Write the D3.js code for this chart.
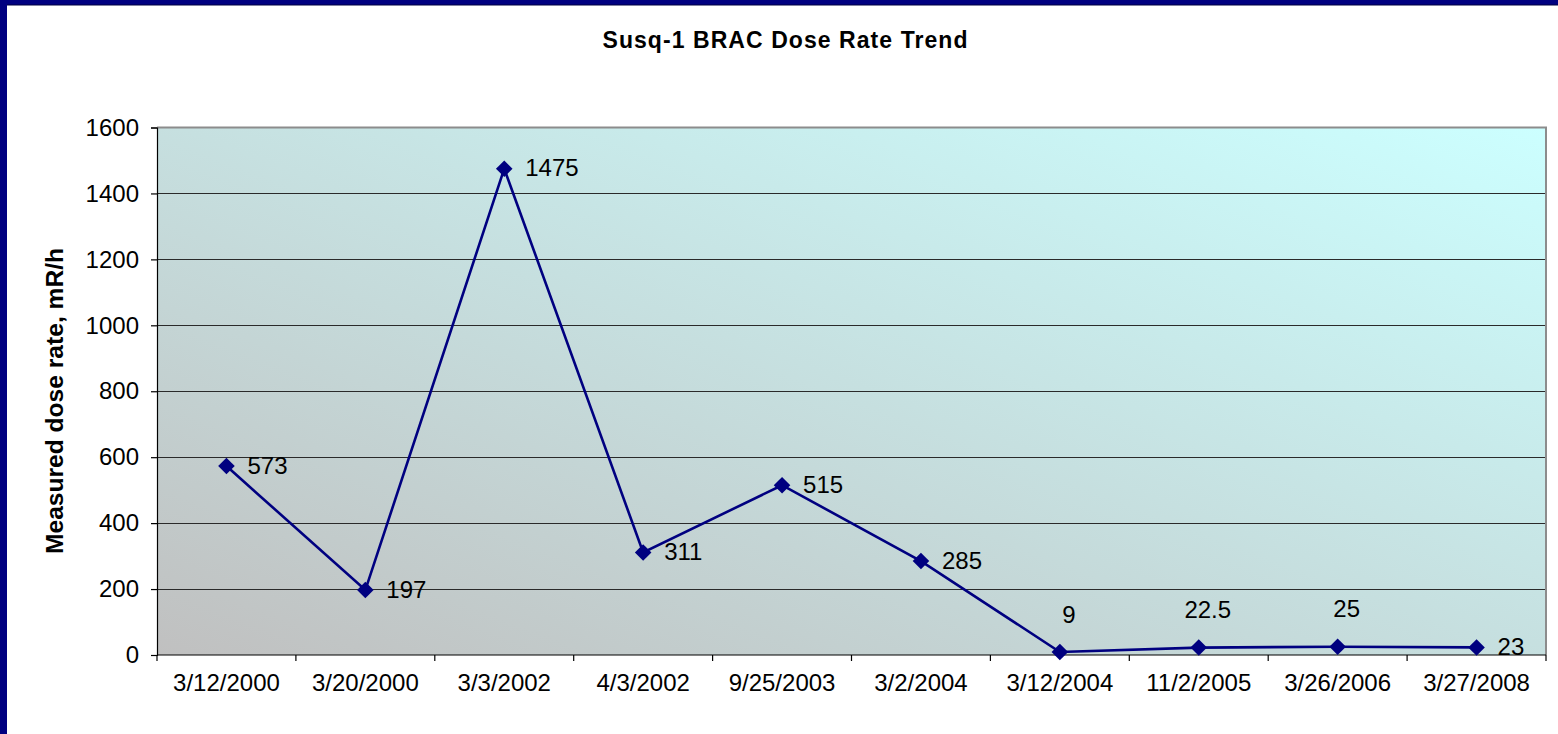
<!DOCTYPE html>
<html>
<head>
<meta charset="utf-8">
<script src="https://cdn.jsdelivr.net/npm/d3@7"></script>
<style>
  html, body { margin: 0; padding: 0; background: #ffffff; }
  svg { display: block; }
  text { font-family: "Liberation Sans", Arial, sans-serif; }
</style>
</head>
<body>
<svg id="chart" width="1558" height="734"></svg>
<script>
// ---- data ----
const title = "Susq-1 BRAC Dose Rate Trend";
const yAxisTitle = "Measured dose rate, mR/h";
const dates = ["3/12/2000", "3/20/2000", "3/3/2002", "4/3/2002", "9/25/2003",
               "3/2/2004", "3/12/2004", "11/2/2005", "3/26/2006", "3/27/2008"];
const doseRates = [573, 197, 1475, 311, 515, 285, 9, 22.5, 25, 23];
const labelPlacement = ["right", "right", "right", "right", "right",
                        "right", "above", "above", "above", "right"];
const yTicks = [0, 200, 400, 600, 800, 1000, 1200, 1400, 1600];

// ---- layout ----
const W = 1558, H = 734;
const plot = { left: 157, top: 127.5, right: 1546, bottom: 655 };
const navy = "#000080";
const fontSize = 24;

const svg = d3.select("#chart");

// gradient
const defs = svg.append("defs");
const grad = defs.append("linearGradient")
  .attr("id", "bg").attr("x1", 0).attr("y1", 1).attr("x2", 1).attr("y2", 0);
grad.append("stop").attr("offset", "0%").attr("stop-color", "#c0c0c0");
grad.append("stop").attr("offset", "100%").attr("stop-color", "#ccffff");

// frame
svg.append("rect").attr("x", 0).attr("y", 0).attr("width", W).attr("height", H).attr("fill", "#ffffff");
svg.append("rect").attr("x", 0).attr("y", 0).attr("width", W).attr("height", 5).attr("fill", navy);
svg.append("rect").attr("x", 0).attr("y", 4.5).attr("width", W).attr("height", 1).attr("fill", "#000040");
svg.append("rect").attr("x", 0).attr("y", 0).attr("width", 7).attr("height", H).attr("fill", navy);

// scales
const x = d3.scaleBand().domain(dates).range([plot.left, plot.right]).paddingInner(0).paddingOuter(0);
const y = d3.scaleLinear().domain([0, 1600]).range([plot.bottom, plot.top]);

// plot background
svg.append("rect")
  .attr("x", plot.left).attr("y", plot.top)
  .attr("width", plot.right - plot.left).attr("height", plot.bottom - plot.top)
  .attr("fill", "url(#bg)");

// gridlines
svg.append("g").selectAll("line")
  .data(yTicks.filter(d => d > 0 && d < 1600))
  .join("line")
  .attr("x1", plot.left).attr("x2", plot.right)
  .attr("y1", d => Math.round(y(d)) + 0.5).attr("y2", d => Math.round(y(d)) + 0.5)
  .attr("stroke", "#2a2a2a").attr("stroke-width", 1.2);

// plot border top/right (gray)
svg.append("path")
  .attr("d", `M${plot.left},${plot.top}H${plot.right}V${plot.bottom}`)
  .attr("fill", "none").attr("stroke", "#8c8c8c").attr("stroke-width", 2);

// y axis
const yAxis = d3.axisLeft(y).tickValues(yTicks).tickSize(6).tickPadding(12).tickFormat(d3.format("d"));
const gy = svg.append("g").attr("transform", `translate(${plot.left},0)`).call(yAxis);
gy.select(".domain").attr("stroke", "#000").attr("stroke-width", 1.2);
gy.selectAll(".tick line").attr("stroke", "#000").attr("stroke-width", 1.2);
gy.selectAll(".tick text").attr("font-size", fontSize).attr("fill", "#000")
  .attr("font-family", "'Liberation Sans', Arial, sans-serif");

// x axis (labels at band centres, ticks at band boundaries)
const xAxis = d3.axisBottom(x).tickSize(0).tickPadding(0);
const gx = svg.append("g").attr("transform", `translate(0,${plot.bottom})`).call(xAxis);
gx.select(".domain").remove();
gx.selectAll(".tick text").attr("font-size", fontSize).attr("fill", "#000")
  .attr("font-family", "'Liberation Sans', Arial, sans-serif")
  .attr("y", 0).attr("dy", "1.48em");
svg.append("line")
  .attr("x1", plot.left).attr("x2", plot.right)
  .attr("y1", plot.bottom).attr("y2", plot.bottom)
  .attr("stroke", "#000").attr("stroke-width", 1.2);
const boundaries = dates.map(d => x(d)).concat([x(dates[dates.length - 1]) + x.bandwidth()]);
svg.append("g").selectAll("line").data(boundaries).join("line")
  .attr("x1", d => d).attr("x2", d => d)
  .attr("y1", plot.bottom).attr("y2", plot.bottom + 6)
  .attr("stroke", "#000").attr("stroke-width", 1.2);

// series
const pts = dates.map((d, i) => ({ date: d, v: doseRates[i], pos: labelPlacement[i],
  cx: x(d) + x.bandwidth() / 2, cy: y(doseRates[i]) }));

svg.append("path")
  .datum(pts)
  .attr("d", d3.line().x(d => d.cx).y(d => d.cy))
  .attr("fill", "none").attr("stroke", navy).attr("stroke-width", 2.6);

svg.append("g").selectAll("path").data(pts).join("path")
  .attr("d", d3.symbol().type(d3.symbolDiamond2).size(175)())
  .attr("transform", d => `translate(${d.cx},${d.cy})`)
  .attr("fill", navy);

// data labels
svg.append("g").selectAll("text").data(pts).join("text")
  .attr("x", d => d.pos === "right" ? d.cx + 21 : d.cx + 9)
  .attr("y", d => d.pos === "right" ? d.cy - 1 : d.cy - 38)
  .attr("dy", "0.36em")
  .attr("text-anchor", d => d.pos === "right" ? "start" : "middle")
  .attr("font-size", fontSize).attr("fill", "#000")
  .text(d => d.v);

// title
svg.append("text")
  .attr("x", 785).attr("y", 48)
  .attr("text-anchor", "middle")
  .attr("font-size", 23).attr("font-weight", "bold")
  .attr("textLength", 365).attr("lengthAdjust", "spacing")
  .text(title);

// y axis title
svg.append("text")
  .attr("transform", "translate(63,401) rotate(-90)")
  .attr("text-anchor", "middle")
  .attr("font-size", 24).attr("font-weight", "bold")
  .attr("textLength", 306).attr("lengthAdjust", "spacingAndGlyphs")
  .text(yAxisTitle);
</script>
</body>
</html>
